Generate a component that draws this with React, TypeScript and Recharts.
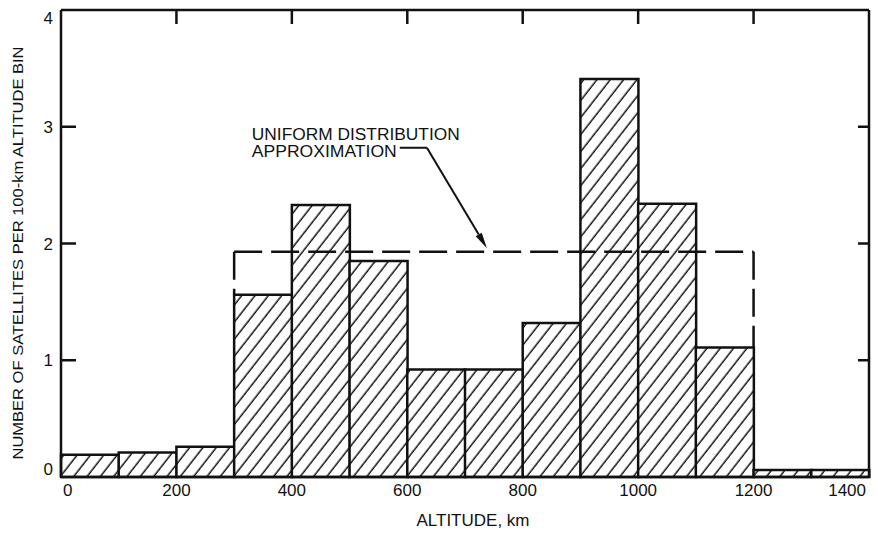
import React from "react";
import { ComposedChart, Bar, XAxis, YAxis, ReferenceLine, Label } from "recharts";

// altitude bins (start of each 100-km bin) and satellites per bin
const binStarts = [0, 100, 200, 300, 400, 500, 600, 700, 800, 900, 1000, 1100, 1200, 1300];
const satellitesPerBin = [0.19, 0.21, 0.26, 1.56, 2.33, 1.85, 0.92, 0.92, 1.32, 3.41, 2.34, 1.11, 0.06, 0.06];

const xTicks = [0, 200, 400, 600, 800, 1000, 1200, 1400];
const topTicks = [200, 400, 600, 800, 1000, 1200];
const yTicks = [0, 1, 2, 3, 4];
const innerYTicks = [1, 2, 3];
const leftTickLengthKm = 26;

// uniform distribution approximation
const uniformLevel = 1.93;
const uniformStart = 300;
const uniformEnd = 1200;
const uniformLeftFoot = 1.56;
const uniformRightFoot = 1.11;

// annotation arrow (km, value)
const calloutStart = { x: 587, y: 2.82 };
const calloutElbow = { x: 634, y: 2.82 };
const calloutTip = { x: 738, y: 1.96 };

const data = binStarts.map((s, i) => ({ mid: s + 50, count: satellitesPerBin[i] }));

const INK = "#111";
const FONT = "'Liberation Sans', Arial, sans-serif";
const tickStyle = { stroke: INK, strokeWidth: 2.5 };

function EmptyTick() {
  return <g />;
}

function LeftTick({ x, y, payload }: any) {
  const v = payload.value;
  const dy = v === 0 ? -2 : v === 4 ? 14 : 6;
  return (
    <text x={x} y={y} dy={dy} textAnchor="end" fontSize={17} fontFamily={FONT} fill={INK}>{v}</text>
  );
}

function BottomTick({ x, y, payload }: any) {
  const v = payload.value;
  let anchor: any = "middle";
  let tx = x;
  if (v === 0) { anchor = "start"; tx = x + 2; }
  if (v === 1400) { anchor = "end"; tx = x + 4; }
  return (
    <text x={tx} y={y + 19} textAnchor={anchor} fontSize={17} fontFamily={FONT} fill={INK}>{v}</text>
  );
}

function CalloutText(props: any) {
  const { x1, y1, x2, y2 } = props;
  return (
    <g>
      <line x1={x1} y1={y1} x2={x2} y2={y2} stroke={INK} strokeWidth={2} />
      <text x={x1 - 148} y={y1 - 8} fontSize={16} fontFamily={FONT} fill={INK}
        textLength={208} lengthAdjust="spacingAndGlyphs">UNIFORM DISTRIBUTION</text>
      <text x={x1 - 148} y={y1 + 9} fontSize={16} fontFamily={FONT} fill={INK}
        textLength={145} lengthAdjust="spacingAndGlyphs">APPROXIMATION</text>
    </g>
  );
}

function ArrowShape(props: any) {
  const { x1, y1, x2, y2 } = props;
  const a = Math.atan2(y2 - y1, x2 - x1);
  const len = 16;
  const w = 3.5;
  const bx = x2 - len * Math.cos(a);
  const by = y2 - len * Math.sin(a);
  const px = -Math.sin(a) * w;
  const py = Math.cos(a) * w;
  return (
    <g>
      <line x1={x1} y1={y1} x2={bx} y2={by} stroke={INK} strokeWidth={2} />
      <polygon points={`${x2},${y2} ${bx + px},${by + py} ${bx - px},${by - py}`} fill={INK} />
    </g>
  );
}

export default function App() {
  return (
    <div style={{ position: "absolute", left: 0, top: 0, background: "#fff" }}>
      <ComposedChart width={878} height={537} data={data} barCategoryGap={0} barGap={0}
        margin={{ top: 10, right: 9, bottom: 0, left: 0 }}>
        <defs>
          <pattern id="hatch" patternUnits="userSpaceOnUse" width={10.5} height={10.5} patternTransform="rotate(38)">
            <rect width={10.5} height={10.5} fill="#fff" />
            <line x1={5} y1={0} x2={5} y2={10.5} stroke={INK} strokeWidth={1.5} />
          </pattern>
        </defs>
        <XAxis dataKey="mid" type="number" domain={[0, 1400]} ticks={xTicks} tickLine={false}
          tickSize={0} tickMargin={0} height={60} tick={<BottomTick />}
          axisLine={tickStyle}>
          <Label content={({ viewBox }: any) => (
            <text x={viewBox.x + viewBox.width / 2 + 8} y={viewBox.y + 49} textAnchor="middle"
              fontSize={17} fontFamily={FONT} fill={INK}>ALTITUDE, km</text>
          )} />
        </XAxis>
        <XAxis xAxisId="top" dataKey="mid" orientation="top" type="number" domain={[0, 1400]} ticks={topTicks}
          mirror tick={<EmptyTick />} tickSize={14} height={1} tickLine={tickStyle} axisLine={tickStyle} />
        <YAxis domain={[0, 4]} ticks={yTicks} width={61} tickLine={false} tickSize={0} tickMargin={8}
          interval={0} tick={<LeftTick />} axisLine={tickStyle}>
          <Label content={({ viewBox }: any) => (
            <text transform={`translate(17, ${viewBox.y + 243}) rotate(-90)`} textAnchor="middle" dy={6}
              fontSize={15} fontFamily={FONT} fill={INK} textLength={413} lengthAdjust="spacingAndGlyphs">
              NUMBER OF SATELLITES PER 100-km ALTITUDE BIN
            </text>
          )} />
        </YAxis>
        <YAxis yAxisId="right" dataKey="count" type="number" orientation="right" domain={[0, 4]}
          ticks={innerYTicks} interval={0} mirror tick={<EmptyTick />} tickSize={11} width={1}
          tickLine={tickStyle} axisLine={tickStyle} />
        <Bar dataKey="count" fill="url(#hatch)" stroke={INK} strokeWidth={2.5} isAnimationActive={false} />
        {innerYTicks.map((v) => (
          <ReferenceLine key={`lt-${v}`} segment={[{ x: 0, y: v }, { x: leftTickLengthKm, y: v }]}
            stroke={INK} strokeWidth={2.5} ifOverflow="visible" />
        ))}
        <ReferenceLine segment={[{ x: uniformStart, y: uniformLevel }, { x: uniformEnd, y: uniformLevel }]}
          stroke={INK} strokeWidth={2.5} strokeDasharray="28 9" />
        <ReferenceLine segment={[{ x: uniformStart, y: uniformLevel }, { x: uniformStart, y: uniformLeftFoot }]}
          stroke={INK} strokeWidth={2.5} strokeDasharray="28 9" />
        <ReferenceLine segment={[{ x: uniformEnd, y: uniformLevel }, { x: uniformEnd, y: uniformRightFoot }]}
          stroke={INK} strokeWidth={2.5} strokeDasharray="28 9" />
        <ReferenceLine segment={[calloutStart, calloutElbow]} shape={<CalloutText />} />
        <ReferenceLine segment={[calloutElbow, calloutTip]} shape={<ArrowShape />} />
      </ComposedChart>
    </div>
  );
}
